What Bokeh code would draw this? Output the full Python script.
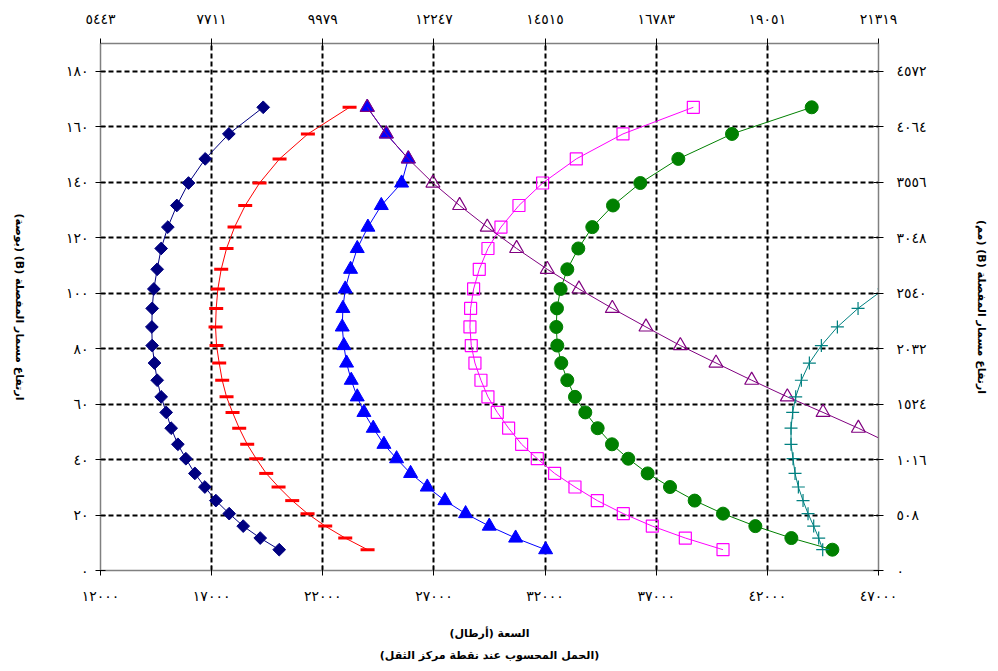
from bokeh.plotting import figure
from bokeh.models import LinearAxis, FixedTicker, Range1d
from bokeh.layouts import row
from bokeh.embed import file_html
from bokeh.resources import INLINE
import numpy as np

# ---------------- data ----------------
# hinge pin height (B) in inches, shared by all curves
hinge_height_in = [167.0, 157.4, 148.4, 139.7, 131.6, 123.8, 116.1, 108.6, 101.5,
                   94.5, 87.8, 81.1, 74.8, 68.6, 62.6, 57.0, 51.3, 45.5, 40.3,
                   35.0, 30.1, 25.2, 20.5, 16.0, 11.7, 7.5]

cap_navy = [19320, 17774, 16711, 15960, 15434, 15029, 14730, 14550, 14400, 14325,
            14310, 14325, 14430, 14550, 14730, 14955, 15180, 15480, 15840, 16245,
            16695, 17190, 17790, 18420, 19185, 20040]
cap_red = [23205, 21330, 20055, 19155, 18510, 18030, 17670, 17430, 17280, 17205,
           17175, 17220, 17340, 17475, 17670, 17940, 18240, 18600, 19005, 19455,
           20010, 20625, 21315, 22110, 23010, 24015]
cap_blue = [24000, 24857, 25847, 25545, 24632, 24030, 23550, 23250, 23010, 22905,
            22875, 22950, 23070, 23280, 23550, 23850, 24270, 24750, 25320, 25950,
            26700, 27495, 28425, 29490, 30675, 32025]
cap_magenta = [38670, 35505, 33405, 31890, 30825, 30015, 29430, 29040, 28785, 28650,
               28620, 28680, 28845, 29115, 29430, 29850, 30360, 30945, 31650, 32430,
               33345, 34350, 35520, 36825, 38310, 40005]
cap_green = [43995, 40410, 37995, 36285, 35055, 34125, 33495, 33000, 32700, 32535,
             32505, 32550, 32730, 33000, 33345, 33810, 34365, 35010, 35745, 36615,
             37620, 38730, 40005, 41460, 43080, 44925]
# purple curve: first 18 heights (the last one lies beyond the right edge)
cap_purple = [24000, 24857, 25847, 26955, 28155, 29400, 30720, 32100, 33525, 35025,
              36540, 38085, 39690, 41295, 42900, 44505, 46095, 47600]
# teal curve: last 18 heights (the first one lies beyond the right edge)
cap_teal = [47250, 46080, 45150, 44430, 43890, 43530, 43275, 43140, 43065, 43065,
            43155, 43245, 43395, 43605, 43830, 44085, 44310, 44490]

# ---------------- ticks / labels ----------------
x_ticks = [12000, 17000, 22000, 27000, 32000, 37000, 42000, 47000]
x_tick_labels_lb = ["١٢٠٠٠", "١٧٠٠٠", "٢٢٠٠٠", "٢٧٠٠٠", "٣٢٠٠٠", "٣٧٠٠٠", "٤٢٠٠٠", "٤٧٠٠٠"]
x_tick_labels_kg = ["٥٤٤٣", "٧٧١١", "٩٩٧٩", "١٢٢٤٧", "١٤٥١٥", "١٦٧٨٣", "١٩٠٥١", "٢١٣١٩"]
y_ticks = [0, 20, 40, 60, 80, 100, 120, 140, 160, 180]
y_tick_labels_in = ["٠", "٢٠", "٤٠", "٦٠", "٨٠", "١٠٠", "١٢٠", "١٤٠", "١٦٠", "١٨٠"]
y_tick_labels_mm = ["٠", "٥٠٨", "١٠١٦", "١٥٢٤", "٢٠٣٢", "٢٥٤٠", "٣٠٤٨", "٣٥٥٦", "٤٠٦٤", "٤٥٧٢"]

RLE, PDF = "\u202b", "\u202c"
x_title = "السعة (أرطال)\n(الحمل المحسوب عند نقطة مركز الثقل)"
y_title_left = RLE + "ارتفاع مسمار المفصلة (B) (بوصة)" + PDF
y_title_right = RLE + "ارتفاع مسمار المفصلة (B) (مم)" + PDF

FONT = "DejaVu Sans"
TITLE_SIZE = "11px"
TITLE_W = 40

p = figure(width=992 - TITLE_W, height=665,
           x_range=Range1d(12000, 47000), y_range=Range1d(0, 190),
           output_backend="svg", toolbar_location=None,
           min_border_left=100 - TITLE_W, min_border_right=114,
           min_border_top=43, min_border_bottom=92)
p.outline_line_color = None
p.background_fill_color = "white"
p.border_fill_color = "white"

# grid
p.xgrid.ticker = FixedTicker(ticks=x_ticks)
p.ygrid.ticker = FixedTicker(ticks=y_ticks[1:])
for g in (p.xgrid, p.ygrid):
    g.grid_line_color = "black"
    g.grid_line_width = 2
    g.grid_line_dash = "5 3"


def style_title(ax):
    ax.axis_label_text_font = FONT
    ax.axis_label_text_font_size = TITLE_SIZE
    ax.axis_label_text_font_style = "bold"
    ax.axis_label_text_color = "black"
    ax.axis_label_text_line_height = 1.75


def style_axis(ax, ticks, labels, standoff):
    ax.ticker = FixedTicker(ticks=ticks)
    ax.major_label_overrides = {t: l for t, l in zip(ticks, labels)}
    ax.axis_line_color = "#808080"
    ax.axis_line_width = 1.5
    ax.major_tick_line_color = "black"
    ax.major_tick_line_width = 1
    ax.major_tick_in = 5
    ax.major_tick_out = 5
    ax.minor_tick_line_color = None
    ax.major_label_text_font = FONT
    ax.major_label_text_font_size = "14px"
    ax.major_label_text_color = "black"
    ax.major_label_standoff = standoff
    style_title(ax)


xb = p.xaxis[0]
style_axis(xb, x_ticks, x_tick_labels_lb, 12)
xb.axis_label = x_title
xb.axis_label_standoff = 20

yl = p.yaxis[0]
style_axis(yl, y_ticks, y_tick_labels_in, 7)

xt = LinearAxis()
style_axis(xt, x_ticks, x_tick_labels_kg, 12)
p.add_layout(xt, "above")

yr = LinearAxis()
style_axis(yr, y_ticks, y_tick_labels_mm, 13)
yr.axis_label = y_title_right
yr.axis_label_standoff = 45
p.add_layout(yr, "right")

# ---------------- series ----------------
h = hinge_height_in
# navy diamonds
p.line(cap_navy, h, line_color="#000080", line_width=1)
p.scatter(cap_navy, h, marker="square", angle=np.pi / 4, size=9,
          fill_color="#000080", line_color="#000080")
# red dashes
p.line(cap_red, h, line_color="#FF0000", line_width=1)
p.scatter(cap_red, h, marker="dash", size=14, line_color="#FF0000", line_width=3)
# blue filled triangles
p.line(cap_blue, h, line_color="#0000FF", line_width=1)
p.scatter(cap_blue, h, marker="triangle", size=14,
          fill_color="#0000FF", line_color="#0000FF")
# magenta open squares
p.line(cap_magenta, h, line_color="#FF00FF", line_width=1)
p.scatter(cap_magenta, h, marker="square", size=12, fill_color=None,
          line_color="#FF00FF", line_width=1.2)
# green circles
p.line(cap_green, h, line_color="#008000", line_width=1)
p.scatter(cap_green, h, marker="circle", size=13,
          fill_color="#008000", line_color="#008000")
# purple open triangles
h_purple = h[:len(cap_purple)]
p.line(cap_purple, h_purple, line_color="#800080", line_width=1)
p.scatter(cap_purple, h_purple, marker="triangle", size=14, fill_color=None,
          line_color="#800080", line_width=1.2)
# teal crosses
h_teal = h[len(h) - len(cap_teal):]
p.line(cap_teal, h_teal, line_color="#008080", line_width=1)
p.scatter(cap_teal, h_teal, marker="cross", size=13, line_color="#008080",
          line_width=1.2)

# ---------------- narrow strip holding the left title (reads top-to-bottom) ----------------
t = figure(width=TITLE_W, height=665, x_range=Range1d(0, 1), y_range=Range1d(0, 190),
           x_axis_location=None, y_axis_location="right",
           output_backend="svg", toolbar_location=None,
           min_border_left=0, min_border_right=TITLE_W - 1,
           min_border_top=43, min_border_bottom=92)
t.outline_line_color = None
t.grid.visible = False
t.background_fill_color = "white"
t.border_fill_color = "white"
ta = t.yaxis[0]
ta.ticker = FixedTicker(ticks=[])
ta.axis_line_color = None
ta.major_tick_line_color = None
ta.minor_tick_line_color = None
ta.major_tick_in = 0
ta.major_tick_out = 0
ta.major_label_standoff = 0
ta.axis_label = y_title_left
ta.axis_label_standoff = 11
style_title(ta)

layout = row(t, p)
open("out.html", "w").write(file_html(layout, INLINE))
